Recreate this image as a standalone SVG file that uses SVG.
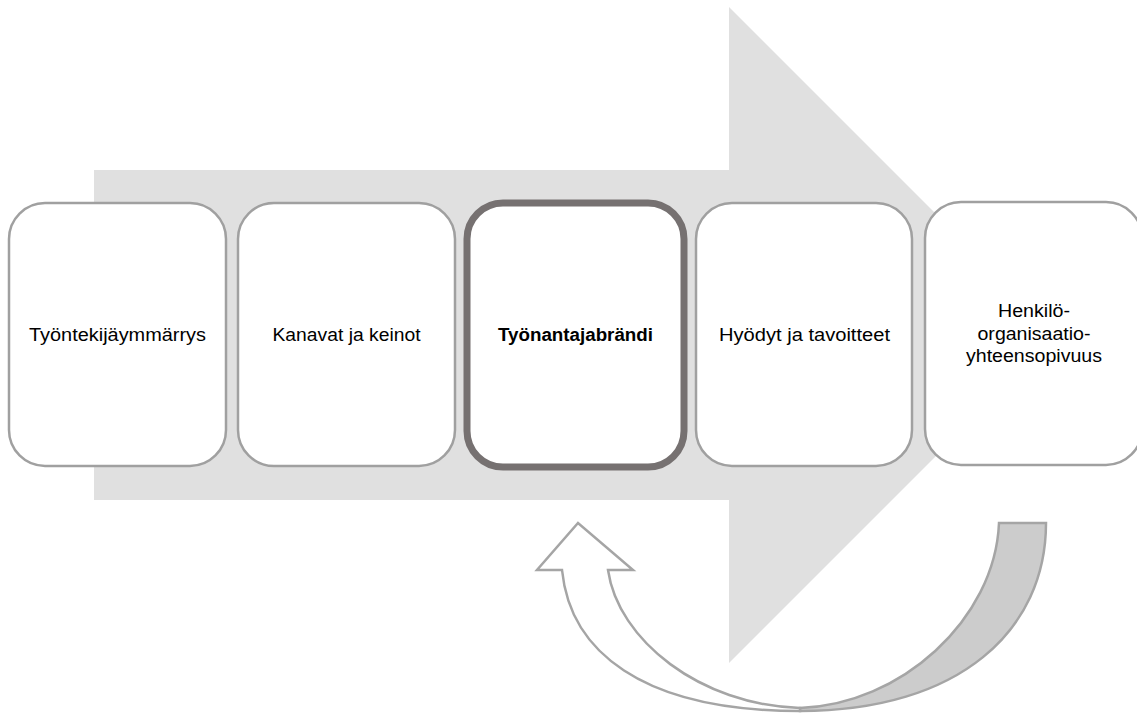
<svg xmlns="http://www.w3.org/2000/svg" width="1137" height="713" viewBox="0 0 1137 713">
<style>
.box{fill:#ffffff;stroke:#a0a0a0;stroke-width:2.5}
.focus{fill:#ffffff;stroke:#767171;stroke-width:7}
.lbl{font-family:"Liberation Sans",Arial,sans-serif;font-size:17.5px;fill:#000000;text-anchor:middle}
.bold{font-weight:bold}
.cur{stroke:#a5a5a5;stroke-width:2.5;stroke-linejoin:miter}
</style>
<rect x="0" y="0" width="1137" height="713" fill="#ffffff"/>
<g id="flow-arrow">
<polygon points="94,170 729,170 729,7 1057,335 729,663 729,500 94,500" fill="#e0e0e0"/>
</g>
<g id="connectors">
<path class="cur" fill="#cccccc" d="M999,523 L1046,523 C1046,630 960,711 800,711 C800,711 800,708 800,708 C900,705 995,620 999,523 Z"/>
<path class="cur" fill="#ffffff" d="M562,570 L537,570 L578,523 L633,570 L608,570 C618,640 700,705 800,708 L800,711 C640,711 570,650 562,570 Z"/>
</g>
<g id="node1">
<rect class="box" x="9" y="203" width="217" height="263" rx="36" ry="36"/>
<text class="lbl" x="117.5" y="341" textLength="177" lengthAdjust="spacingAndGlyphs">Työntekijäymmärrys</text>
</g>
<g id="node2">
<rect class="box" x="238" y="203" width="217" height="263" rx="36" ry="36"/>
<text class="lbl" x="346.5" y="341" textLength="148" lengthAdjust="spacingAndGlyphs">Kanavat ja keinot</text>
</g>
<g id="node3">
<rect class="focus" x="467" y="203" width="217" height="264" rx="36" ry="36"/>
<text class="lbl bold" x="575.5" y="341" textLength="155" lengthAdjust="spacingAndGlyphs">Työnantajabrändi</text>
</g>
<g id="node4">
<rect class="box" x="696" y="203" width="216" height="263" rx="36" ry="36"/>
<text class="lbl" x="804.5" y="341" textLength="171" lengthAdjust="spacingAndGlyphs">Hyödyt ja tavoitteet</text>
</g>
<g id="node5">
<rect class="box" x="925" y="202" width="217" height="263" rx="36" ry="36"/>
<text class="lbl" x="1034" y="317" textLength="72" lengthAdjust="spacingAndGlyphs">Henkilö-</text>
<text class="lbl" x="1034" y="339.5" textLength="113" lengthAdjust="spacingAndGlyphs">organisaatio-</text>
<text class="lbl" x="1034" y="362" textLength="136" lengthAdjust="spacingAndGlyphs">yhteensopivuus</text>
</g>
</svg>
